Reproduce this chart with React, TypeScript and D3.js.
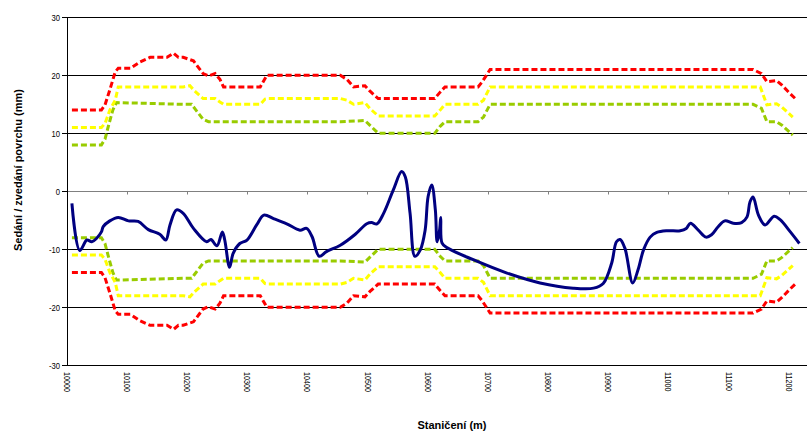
import React from 'react'
import * as d3 from 'd3'

// stationing ticks (m) and settlement ticks (mm)
const stationTicks = [10000, 10100, 10200, 10300, 10400, 10500, 10600, 10700, 10800, 10900, 11000, 11100, 11200]
const mmTicks = [-30, -20, -10, 0, 10, 20, 30]

// measured settlement / heave [station, mm]
const measured: [number, number][] = [
  [10009, -2.1], [10022, -10.2], [10034, -8.4], [10042, -8.7], [10050, -8.1], [10058, -7.0],
  [10061, -6.1], [10072, -5.1], [10086, -4.5], [10103, -5.1], [10119, -5.2], [10136, -6.6],
  [10155, -7.4], [10165, -8.4], [10172, -5.8], [10183, -3.2], [10194, -3.8], [10211, -6.4],
  [10233, -8.7], [10240, -8.3], [10250, -9.4], [10259, -7.0], [10263, -8.4], [10271, -13.1],
  [10277, -10.7], [10288, -9.0], [10300, -8.4], [10316, -5.8], [10328, -4.1], [10344, -4.7],
  [10366, -5.6], [10388, -6.7], [10399, -6.4], [10408, -7.8], [10420, -11.2], [10432, -10.4],
  [10455, -9.3], [10480, -7.4], [10499, -5.6], [10507, -5.4], [10516, -5.6], [10527, -3.8],
  [10543, 0.2], [10557, 3.4], [10563, 2.5], [10571, -3.8], [10579, -11.2], [10588, -10.1],
  [10596, -6.7], [10601, -0.9], [10607, 1.1], [10613, -3.2], [10616, -8.7], [10620, -6.7],
  [10622, -4.5], [10624, -8.9], [10632, -9.7], [10676, -11.8], [10732, -14.1], [10787, -15.8],
  [10842, -16.7], [10876, -16.7], [10892, -15.9], [10906, -12.4], [10914, -8.7], [10920, -8.3],
  [10928, -9.8], [10941, -15.8], [10950, -13.5], [10959, -10.1], [10970, -7.9], [10981, -7.1],
  [10998, -6.8], [11020, -6.8], [11030, -6.4], [11037, -5.5], [11050, -6.7], [11063, -7.9],
  [11072, -7.5], [11083, -6.1], [11094, -5.1], [11108, -5.5], [11122, -5.4], [11131, -4.4],
  [11136, -1.8], [11141, -1.0], [11150, -4.1], [11161, -5.8], [11176, -4.3], [11186, -4.9],
  [11203, -7.0], [11218, -9.0],
]

// limit values (upper branch, lower branch is mirrored)
const redLimit: [number, number][] = [
  [10009, 14], [10051, 14], [10058, 14], [10064, 14.9], [10072, 17.5], [10081, 20.6], [10086, 21.2],
  [10106, 21.2], [10122, 22.3], [10139, 23.1], [10167, 23.1], [10178, 23.8], [10186, 23.1],
  [10194, 23.1], [10211, 22.5], [10227, 20.3], [10236, 19.9], [10247, 20.3], [10255, 19.3],
  [10261, 18], [10322, 18], [10333, 20], [10455, 20], [10466, 19.3], [10477, 18], [10496, 18.2],
  [10504, 17.3], [10518, 16], [10612, 16], [10621, 17.1], [10629, 18], [10684, 18], [10691, 18.9],
  [10704, 21], [11141, 21], [11155, 20.3], [11164, 18.9], [11180, 19.1], [11189, 18.3],
  [11203, 16.8], [11211, 16],
]
const yellowLimit: [number, number][] = [
  [10009, 11], [10058, 11], [10064, 11.7], [10072, 14], [10081, 15.7], [10086, 18], [10194, 18],
  [10205, 18.2], [10213, 17.3], [10227, 16], [10247, 16], [10255, 15.4], [10261, 15], [10322, 15],
  [10330, 15.9], [10336, 16], [10455, 16], [10466, 15.7], [10477, 15], [10496, 15.3], [10504, 14.3],
  [10518, 13], [10612, 13], [10621, 14], [10629, 15], [10684, 15], [10693, 15.7], [10704, 18],
  [11141, 18], [11153, 18], [11164, 14.9], [11180, 15.1], [11189, 14.5], [11207, 12.8],
]
const greenLimit: [number, number][] = [
  [10009, 8], [10058, 8], [10064, 9], [10069, 11], [10077, 14], [10083, 15.3], [10194, 15],
  [10208, 15], [10213, 14.3], [10227, 12.4], [10236, 12], [10455, 12], [10496, 12.2], [10504, 11.4],
  [10518, 10], [10612, 10], [10621, 11.2], [10629, 12], [10684, 12], [10693, 12.8], [10704, 15],
  [11141, 15], [11155, 14.3], [11164, 12], [11180, 12], [11189, 11.4], [11207, 9.7],
]

const W = 807
const H = 431
const left = 66.5
const top = 17.3
const bottom = 365.3

export default function App() {
  const x = d3.scaleLinear().domain([10000, 11230]).range([left, 806.6])
  const y = d3.scaleLinear().domain([-30, 30]).range([bottom, top])
  const px = (v: number) => Math.round(v) + 0.5

  const smooth = d3.line<[number, number]>()
    .x(d => x(d[0]))
    .y(d => y(d[1]))
    .curve(d3.curveCatmullRom.alpha(0.5))
  const straight = d3.line<[number, number]>()
    .x(d => x(d[0]))
    .y(d => y(d[1]))

  const limits = [
    { data: greenLimit, color: '#99CC00' },
    { data: yellowLimit, color: '#FFFF00' },
    { data: redLimit, color: '#FF0000' },
  ]

  const y0 = px(y(0))

  return (
    <svg width={W} height={H} style={{ position: 'absolute', left: 0, top: 0, background: '#fff' }}
      fontFamily="'Liberation Sans', Arial, sans-serif">
      {/* gridlines */}
      {mmTicks.filter(t => t !== 0).map(t => (
        <line key={t} x1={left} x2={W} y1={px(y(t))} y2={px(y(t))} stroke="#000" strokeWidth={1} />
      ))}
      {/* x axis at zero */}
      <line x1={left} x2={W} y1={y0} y2={y0} stroke="#808080" strokeWidth={1} />
      {stationTicks.map(s => (
        <line key={s} x1={px(x(s))} x2={px(x(s))} y1={y0} y2={y0 + 3} stroke="#808080" />
      ))}
      {/* y axis */}
      <line x1={px(left)} x2={px(left)} y1={px(top)} y2={px(bottom)} stroke="#000" />
      {mmTicks.map(t => (
        <g key={t}>
          <line x1={62} x2={px(left)} y1={px(y(t))} y2={px(y(t))} stroke="#000" />
          <text x={60} y={y(t)} textAnchor="end" dominantBaseline="central" fontSize={9}
            transform={`translate(60,0) scale(0.85,1) translate(-60,0)`} fill="#000">{t}</text>
        </g>
      ))}
      {/* station labels */}
      {stationTicks.map(s => (
        <text key={s} transform={`translate(${x(s)},372) rotate(90) scale(0.8,1)`}
          dominantBaseline="central" fontSize={9} fill="#000">{s}</text>
      ))}

      {/* limit lines */}
      {limits.map(l => (
        <g key={l.color} fill="none" stroke={l.color} strokeWidth={3} strokeDasharray="6,3">
          <path d={straight(l.data) ?? ''} />
          <path d={straight(l.data.map(d => [d[0], -d[1]] as [number, number])) ?? ''} />
        </g>
      ))}

      {/* measured */}
      <path d={smooth(measured) ?? ''} fill="none" stroke="#000080" strokeWidth={3} strokeLinejoin="round" />

      {/* titles */}
      <text transform="translate(18,170) rotate(-90)" textAnchor="middle" dominantBaseline="central"
        fontSize={11} fontWeight="bold" fill="#000">Sedání / zvedání povrchu (mm)</text>
      <text x={452} y={429} textAnchor="middle" fontSize={11} fontWeight="bold" fill="#000">Staničení (m)</text>
    </svg>
  )
}
